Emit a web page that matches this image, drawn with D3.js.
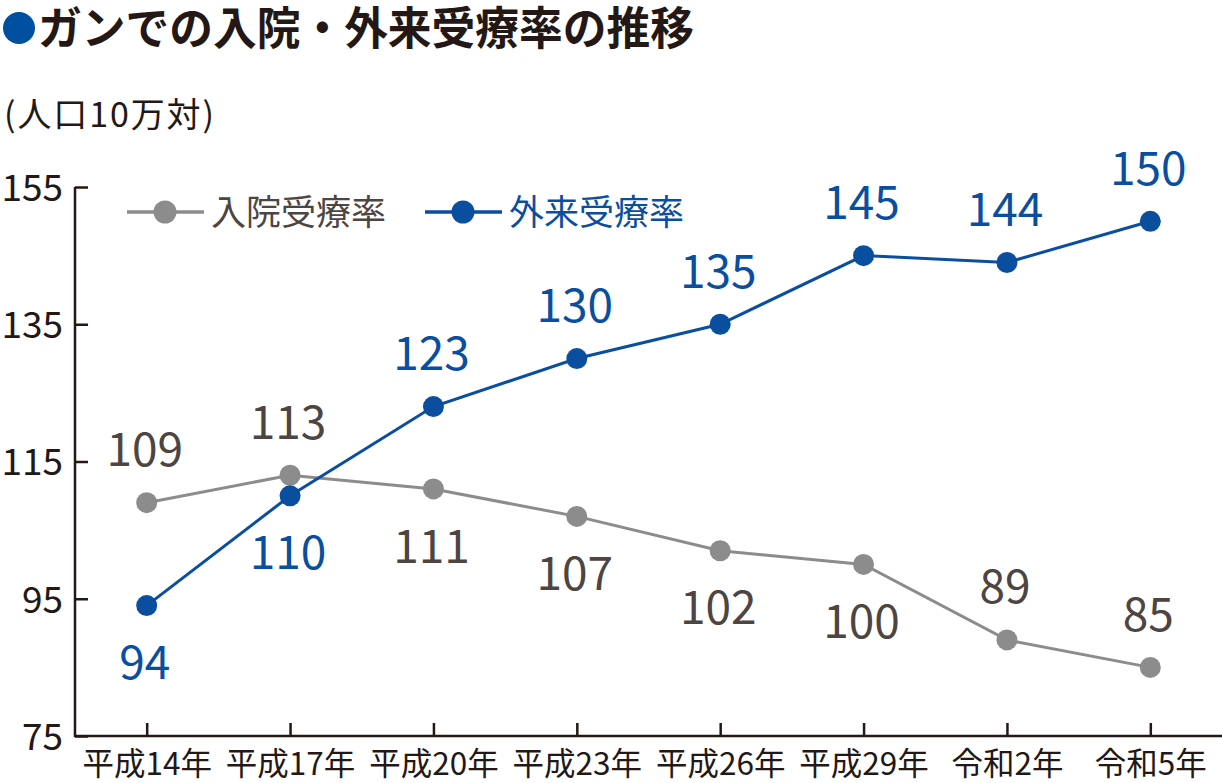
<!DOCTYPE html>
<html>
<head>
<meta charset="utf-8">
<script src="https://cdn.jsdelivr.net/npm/d3@7"></script>
<style>
  body { margin: 0; background: #fff; }
  text { font-family: "Noto Sans CJK JP", "Noto Sans", sans-serif; }
</style>
</head>
<body>
<div id="chart"></div>
<script>
// data
var years = ["平成14年", "平成17年", "平成20年", "平成23年", "平成26年", "平成29年", "令和2年", "令和5年"]
var inpatient = [109, 113, 111, 107, 102, 100, 89, 85]
var outpatient = [94, 110, 123, 130, 135, 145, 144, 150]
// label above (1) or below (-1) the dot
var inpatientSide = [1, 1, -1, -1, -1, -1, 1, 1]
var outpatientSide = [-1, -1, 1, 1, 1, 1, 1, 1]
var yTicks = [75, 95, 115, 135, 155]

var W = 1222, H = 783
var dark = "#231815", gray = "#8c8c8c", grayText = "#4d4542", blue = "#0a4f9f"

var svg = d3.select("#chart").append("svg")
    .attr("width", W)
    .attr("height", H)

// SCALES
var x = d3.scalePoint()
    .domain(years)
    .range([75, 1222])
    .padding(0.5)

var y = d3.scaleLinear()
    .domain([75, 155])
    .range([736, 187])

// TITLE
svg.append("circle")
    .attr("cx", 19).attr("cy", 28).attr("r", 16)
    .attr("fill", "#0050a0")
svg.append("text")
    .attr("x", 38).attr("y", 45)
    .attr("font-size", 45)
    .attr("font-weight", "bold")
    .attr("fill", dark)
    .attr("textLength", 656)
    .attr("lengthAdjust", "spacingAndGlyphs")
    .text("ガンでの入院・外来受療率の推移")

svg.append("text")
    .attr("x", 4).attr("y", 127)
    .attr("font-size", 34)
    .attr("fill", dark)
    .attr("textLength", 210)
    .text("(人口10万対)")

// AXES
var yAxis = svg.append("g")
    .attr("transform", "translate(75,0)")
    .call(d3.axisRight(y).tickValues(yTicks).tickSize(13).tickFormat(d3.format("d")))
yAxis.select(".domain").remove()
yAxis.selectAll(".tick line").attr("stroke", dark).attr("stroke-width", 2.5)
yAxis.selectAll(".tick text")
    .attr("x", -12)
    .attr("text-anchor", "end")
    .attr("dy", "0.36em")
    .attr("font-size", 37)
    .attr("fill", dark)

var xAxis = svg.append("g")
    .attr("transform", "translate(0,736)")
    .call(d3.axisTop(x).tickSize(13))
xAxis.select(".domain").remove()
xAxis.selectAll(".tick line").attr("stroke", dark).attr("stroke-width", 2.5)
xAxis.selectAll(".tick text")
    .attr("y", 28)
    .attr("dy", "0.36em")
    .attr("font-size", 31.5)
    .attr("fill", dark)

svg.append("path")
    .attr("d", "M75,187V736H1222")
    .attr("fill", "none")
    .attr("stroke", dark)
    .attr("stroke-width", 2.5)

// SERIES
function drawSeries(vals, side, color, textColor) {
  var line = d3.line()
      .x(function (d, i) { return x(years[i]) })
      .y(function (d) { return y(d) })
  svg.append("path")
      .datum(vals)
      .attr("d", line)
      .attr("fill", "none")
      .attr("stroke", color)
      .attr("stroke-width", 3)
  svg.append("g").selectAll("circle")
      .data(vals)
      .enter()
      .append("circle")
      .attr("cx", function (d, i) { return x(years[i]) })
      .attr("cy", function (d) { return y(d) })
      .attr("r", 10.5)
      .attr("fill", color)
  svg.append("g").selectAll("text")
      .data(vals)
      .enter()
      .append("text")
      .attr("x", function (d, i) { return x(years[i]) - 2 })
      .attr("y", function (d, i) { return y(d) - (side[i] > 0 ? 53 : -57) })
      .attr("dy", "0.36em")
      .attr("text-anchor", "middle")
      .attr("font-size", 46)
      .attr("fill", textColor)
      .text(function (d) { return d })
}

drawSeries(inpatient, inpatientSide, gray, grayText)
drawSeries(outpatient, outpatientSide, blue, blue)

// LEGEND
var legend = [
  {name: "入院受療率", color: gray, text: grayText, x: 127},
  {name: "外来受療率", color: blue, text: blue, x: 425}
]
legend.forEach(function (l) {
  svg.append("line")
      .attr("x1", l.x).attr("x2", l.x + 77)
      .attr("y1", 212).attr("y2", 212)
      .attr("stroke", l.color).attr("stroke-width", 3.5)
  svg.append("circle")
      .attr("cx", l.x + 38).attr("cy", 212).attr("r", 11.5)
      .attr("fill", l.color)
  svg.append("text")
      .attr("x", l.x + 84).attr("y", 212)
      .attr("dy", "0.36em")
      .attr("font-size", 35)
      .attr("fill", l.text)
      .text(l.name)
})
</script>
</body>
</html>
